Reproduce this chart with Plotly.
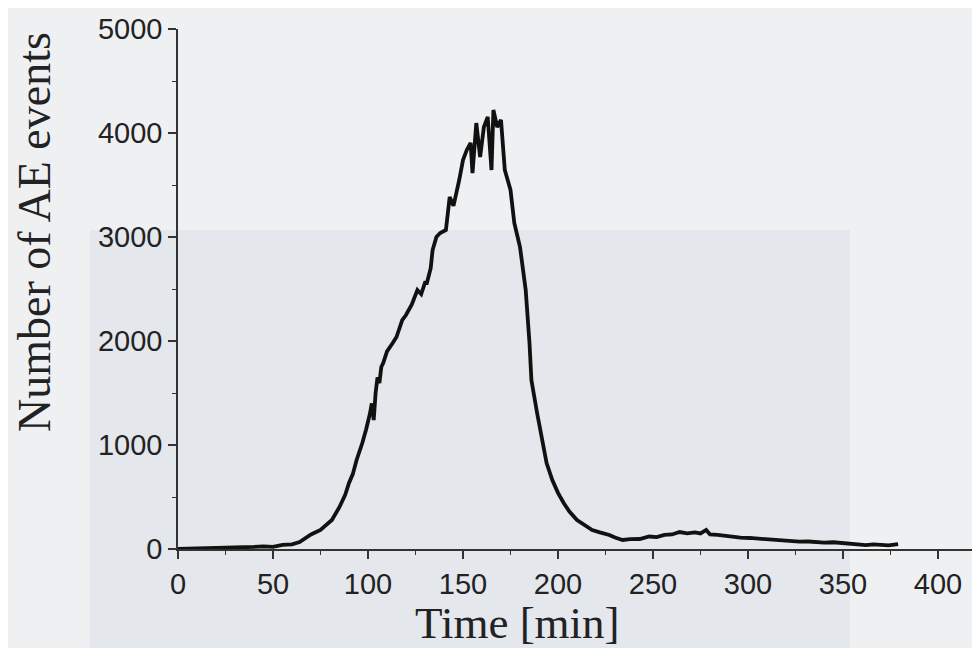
import plotly.graph_objects as go

# Data
time_min = [0, 5, 10, 15, 20, 25, 30, 35, 40, 45, 50, 55, 60, 64, 67, 70, 75, 78, 81, 85,
            88, 90, 92, 94, 96, 97, 99, 100, 101, 102, 103, 104, 105, 106, 107, 108, 110, 113,
            115, 118, 120, 123, 126, 128, 130, 131, 133, 134, 136, 138, 141, 143, 145, 148,
            150, 152, 154, 155, 157, 159, 161, 163, 165, 166, 168, 170, 172, 175, 177, 180,
            183, 185, 186, 189, 191.5, 194, 197, 200, 203, 206, 210, 214, 218, 222, 227, 230,
            234, 238, 243, 248, 252, 256, 260, 264, 268, 272, 275, 278, 280, 284, 288, 292,
            296, 301, 306, 310, 314, 318, 322, 327, 332, 336, 340, 345, 350, 355, 358, 362,
            366, 370, 374, 379]
ae_events = [0, 2, 0, 5, 3, 5, 15, 12, 20, 25, 20, 40, 45, 67, 100, 140, 183, 230, 279, 404,
             520, 635, 720, 856, 950, 1019, 1150, 1212, 1300, 1400, 1240, 1500, 1650, 1596, 1750,
             1788, 1900, 1980, 2038, 2200, 2250, 2350, 2490, 2450, 2560, 2558, 2700, 2875, 3000,
             3038, 3067, 3385, 3300, 3548, 3740, 3837, 3904, 3615, 4096, 3770, 4058, 4154, 3644,
             4221, 4058, 4125, 3644, 3452, 3135, 2904, 2490, 1980, 1625, 1308, 1048, 827, 663,
             540, 442, 360, 279, 230, 183, 160, 135, 110, 87, 95, 96, 120, 115, 135, 140, 163,
             150, 160, 150, 183, 140, 135, 125, 120, 110, 106, 100, 95, 85, 77, 80, 70, 72, 67,
             62, 65, 58, 50, 45, 38, 45, 42, 35, 48]

x_ticks = [0, 50, 100, 150, 200, 250, 300, 350, 400]
y_ticks = [0, 1000, 2000, 3000, 4000, 5000]
x_title = "Time [min]"
y_title = "Number of AE events"

OFF = 8  # page body margin
W, H = 980 - OFF, 648 - OFF
L, T = 178 - OFF, 29 - OFF
PW, PH = 802, 520
R = W - L - PW
B = H - T - PH


def px_x(px):
    return (px - OFF - L) / PW


def px_y(py):
    return (T + PH - (py - OFF)) / PH


fig = go.Figure()
fig.add_trace(go.Scatter(x=time_min, y=ae_events, mode="lines",
                         line=dict(color="#111111", width=3.8), showlegend=False))

axis_common = dict(showgrid=False, zeroline=False, showline=True, linecolor="#333333",
                   linewidth=1.5, ticks="outside", ticklen=8, tickwidth=1.5, tickcolor="#333333",
                   tickfont=dict(family="Liberation Sans, Arial, sans-serif", size=29, color="#222222"))

fig.update_xaxes(range=[0, PW / 1.9], tickvals=x_ticks, ticktext=[str(v) for v in x_ticks],
                 minor=dict(dtick=25, tick0=0, ticks="outside", ticklen=4, tickwidth=1.2,
                            tickcolor="#333333"),
                 **axis_common)
fig.update_yaxes(range=[0, 5000], tickvals=y_ticks, ticktext=[str(v) for v in y_ticks],
                 minor=dict(dtick=500, tick0=0, ticks="outside", ticklen=4, tickwidth=1.2,
                            tickcolor="#333333"),
                 **axis_common)

# subtle scanned-page background regions
fig.add_shape(type="rect", xref="paper", yref="paper", layer="below",
              x0=px_x(90), x1=px_x(850), y0=px_y(660), y1=px_y(230),
              fillcolor="#e4e7eb", line_width=0)

fig.add_annotation(text=y_title, xref="paper", yref="paper", x=px_x(35), y=px_y(232),
                   textangle=-90, showarrow=False, xanchor="center", yanchor="middle",
                   font=dict(family="Liberation Serif, Times New Roman, serif", size=46,
                             color="#222222"))
fig.add_annotation(text=x_title, xref="paper", yref="paper", x=px_x(517), y=px_y(623),
                   showarrow=False, xanchor="center", yanchor="middle",
                   font=dict(family="Liberation Serif, Times New Roman, serif", size=45,
                             color="#222222"))

fig.update_layout(width=W, height=H, margin=dict(l=L, r=R, t=T, b=B, pad=0),
                  paper_bgcolor="#eef0f2", plot_bgcolor="rgba(0,0,0,0)")

fig.write_html("out.html")
